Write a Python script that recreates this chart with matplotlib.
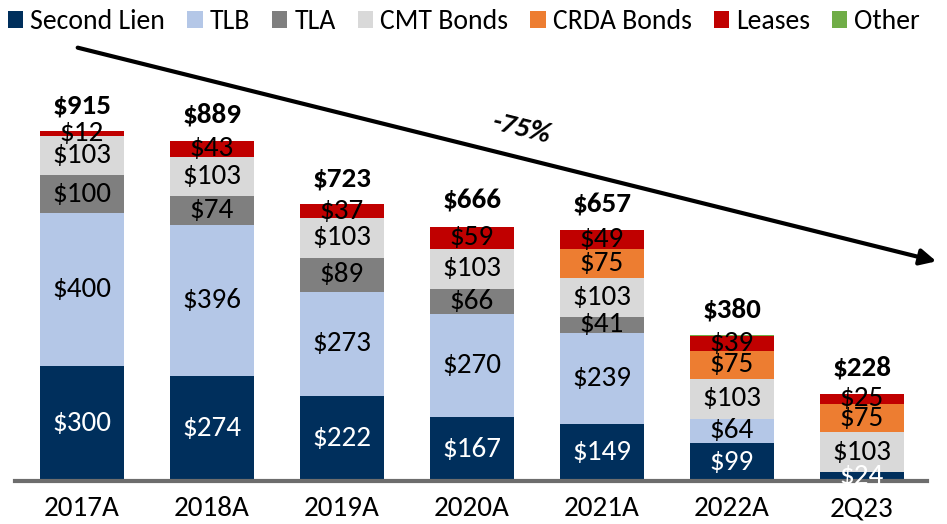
import matplotlib
matplotlib.use("Agg")
import matplotlib.pyplot as plt
from matplotlib.patches import Patch, FancyArrowPatch
import numpy as np

# Dados do gráfico
anos = ['2017A', '2018A', '2019A', '2020A', '2021A', '2022A', '2Q23']
series = ['Second Lien', 'TLB', 'TLA', 'CMT Bonds', 'CRDA Bonds', 'Leases', 'Other']
second_lien = [300, 274, 222, 167, 149, 99, 24]
tlb = [400, 396, 273, 270, 239, 64, 0]
tla = [100, 74, 89, 66, 41, 0, 0]
cmt = [103, 103, 103, 103, 103, 103, 103]
crda = [0, 0, 0, 0, 75, 75, 75]
leases = [12, 43, 37, 59, 49, 39, 25]
other = [0, 0, 0, 0, 0, 1, 1]
totais = [915, 889, 723, 666, 657, 380, 228]
variacao = '-75%'

cores = ['#002F5C', '#B4C7E7', '#7F7F7F', '#D9D9D9', '#ED7D31', '#C00000', '#70AD47']
cor_texto = ['white', 'black', 'black', 'black', 'black', 'black', None]

plt.rcParams['font.family'] = ['Carlito', 'Liberation Sans Narrow', 'DejaVu Sans']

fig = plt.figure(figsize=(9.47, 5.24), dpi=100)
ax = fig.add_axes([15/947, 1-481/524, (927-15)/947, 441/524])

x = np.arange(len(anos))
valores = [second_lien, tlb, tla, cmt, crda, leases, other]
base = np.zeros(len(anos))
for s, vals in enumerate(valores):
    vals = np.array(vals, dtype=float)
    ax.bar(x, vals, 0.65, bottom=base, color=cores[s], edgecolor='none', zorder=2)
    if cor_texto[s] is not None:
        for i in range(len(anos)):
            if vals[i] > 0:
                ax.text(x[i], base[i]+vals[i]/2, '$'+str(int(vals[i])), ha='center', va='center',
                        fontsize=21, color=cor_texto[s], zorder=3)
    base = base + vals

# Totais acima das barras
for i in range(len(anos)):
    ax.annotate('$'+str(totais[i]), xy=(x[i], base[i]), xytext=(0, 10), textcoords='offset points',
                ha='center', va='bottom', fontsize=21, fontweight='bold')

ax.set_xlim(-0.515, 6.5)
ax.set_ylim(0, 1153)
ax.set_xticks(x)
ax.set_xticklabels(anos, fontsize=21)
ax.tick_params(axis='x', length=0, pad=11)
ax.set_yticks([])
for lado in ['top', 'right', 'left']:
    ax.spines[lado].set_visible(False)
ax.spines['bottom'].set_color('#6D6D6D')
ax.spines['bottom'].set_linewidth(3)

# Seta de tendência
seta = FancyArrowPatch((75/947, 1-47/524), (939/947, 1-262/524), transform=fig.transFigure,
                       arrowstyle='-|>', mutation_scale=24, lw=3, color='black')
fig.patches.append(seta)
fig.text(522/947, 1-128/524, variacao, ha='center', va='center', fontsize=21,
         fontweight='bold', fontstyle='italic', rotation=-14)

# Legenda
handles = [Patch(facecolor=cores[s], edgecolor='none') for s in range(len(series))]
fig.legend(handles, series, loc='upper center', bbox_to_anchor=(0.49, 1.03), ncol=7,
           frameon=False, fontsize=20, handlelength=0.55, handleheight=0.55,
           handletextpad=0.25, columnspacing=0.8)

fig.savefig('out.png', dpi=100)
